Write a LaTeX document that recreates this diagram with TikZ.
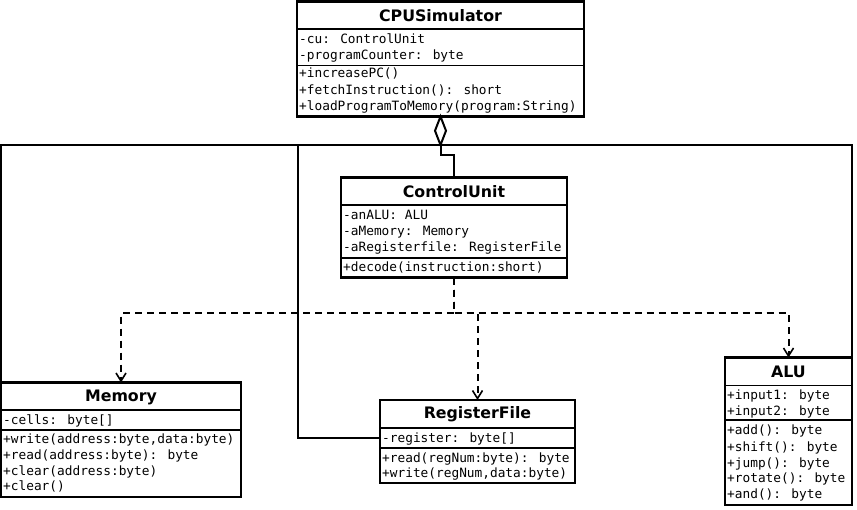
\documentclass[tikz,border=0pt]{standalone}
\usepackage{fontspec}
\newfontfamily\umlmono{DejaVu Sans Mono}
\newfontfamily\umlsans{DejaVu Sans}
\usetikzlibrary{arrows.meta}
\begin{document}
\begin{tikzpicture}[x=1pt,y=-1pt,
  box/.style={draw, line width=2.1pt, anchor=north west, inner sep=0pt, outer sep=0pt},
  sep/.style={line width=1.9pt},
  title/.style={anchor=base, inner sep=0pt, font=\umlsans\bfseries\fontsize{15.8}{18}\selectfont},
  mono/.style={anchor=base west, inner sep=0pt, font=\umlmono\fontsize{12.8}{16}\selectfont},
  assoc/.style={line width=2pt},
  dep/.style={line width=2pt, dash pattern=on 7pt off 5pt,
    -{Straight Barb[length=8pt,width=10pt,line width=1.6pt]}},
]
\useasboundingbox[fill=white] (0,0) rectangle (857,509);

% ---------- CPUSimulator
\node[box, minimum width=287pt, minimum height=115pt] (cpu) at (297,1.5) {};
\draw[sep] (297,29) -- (584,29);
\draw[sep] (297,65.5) -- (584,65.5);
\node[title] (cpuT) at (440.5,21) {CPUSimulator};
\node[mono] (cpuA1) at (299,43) {-cu: ControlUnit};
\node[mono] (cpuA2) at (299,59) {-programCounter: byte};
\node[mono] (cpuM1) at (299,77.5) {+increasePC()};
\node[mono] (cpuM2) at (299,94) {+fetchInstruction(): short};
\node[mono] (cpuM3) at (299,110) {+loadProgramToMemory(program:String)};

% ---------- ControlUnit
\node[box, minimum width=226pt, minimum height=100pt] (cu) at (341,177.5) {};
\draw[sep] (341,205) -- (567,205);
\draw[sep] (341,258) -- (567,258);
\node[title] (cuT) at (454,197.5) {ControlUnit};
\node[mono] (cuA1) at (343,219) {-anALU: ALU};
\node[mono] (cuA2) at (343,235) {-aMemory: Memory};
\node[mono] (cuA3) at (343,251) {-aRegisterfile: RegisterFile};
\node[mono] (cuM1) at (343,271) {+decode(instruction:short)};

% ---------- Memory
\node[box, minimum width=240pt, minimum height=114.5pt] (mem) at (1,382.5) {};
\draw[sep] (1,410) -- (241,410);
\draw[sep] (1,430) -- (241,430);
\node[title] (memT) at (121,401) {Memory};
\node[mono] (memA1) at (3,424) {-cells: byte[]};
\node[mono] (memM1) at (3,443.5) {+write(address:byte,data:byte)};
\node[mono] (memM2) at (3,459.5) {+read(address:byte): byte};
\node[mono] (memM3) at (3,475) {+clear(address:byte)};
\node[mono] (memM4) at (3,490.5) {+clear()};

% ---------- RegisterFile
\node[box, minimum width=195pt, minimum height=83pt] (rf) at (380,400) {};
\draw[sep] (380,428) -- (575,428);
\draw[sep] (380,448) -- (575,448);
\node[title] (rfT) at (477.5,418.5) {RegisterFile};
\node[mono] (rfA1) at (382,442.5) {-register: byte[]};
\node[mono] (rfM1) at (382,462.5) {+read(regNum:byte): byte};
\node[mono] (rfM2) at (382,477.5) {+write(regNum,data:byte)};

% ---------- ALU
\node[box, minimum width=127pt, minimum height=147.5pt] (alu) at (725,357.5) {};
\draw[sep] (725,385.5) -- (852,385.5);
\draw[sep] (725,420) -- (852,420);
\node[title] (aluT) at (788.5,377) {ALU};
\node[mono] (aluA1) at (727,399) {+input1: byte};
\node[mono] (aluA2) at (727,415) {+input2: byte};
\node[mono] (aluM1) at (727,434.5) {+add(): byte};
\node[mono] (aluM2) at (727,451) {+shift(): byte};
\node[mono] (aluM3) at (727,467) {+jump(): byte};
\node[mono] (aluM4) at (727,482.5) {+rotate(): byte};
\node[mono] (aluM5) at (727,498.5) {+and(): byte};

% ---------- aggregation from CPUSimulator
\draw[assoc, fill=white] (cpu.south) -- ++(5.5,14.25) -- ++(-5.5,14.25) coordinate (agg)
  -- ++(-5.5,-14.25) -- cycle;
\draw[assoc] (agg) -- ++(0,9.5) -| (cu.north);
\draw[assoc] (agg) -| (mem.north west);
\draw[assoc] (agg) -| (alu.north east);
\coordinate (rfj) at (297.5,437.5);
\draw[assoc] (agg) -| (rfj) -- (rfj -| rf.west);

% ---------- dependencies from ControlUnit
\path (cu.south) ++(0,35.5) coordinate (dj);
\draw[dep] (cu.south) -- (dj) -| (mem.north);
\draw[dep] (cu.south) -- (dj) -| (rf.north);
\draw[dep] (cu.south) -- (dj) -| (alu.north);
\end{tikzpicture}
\end{document}
